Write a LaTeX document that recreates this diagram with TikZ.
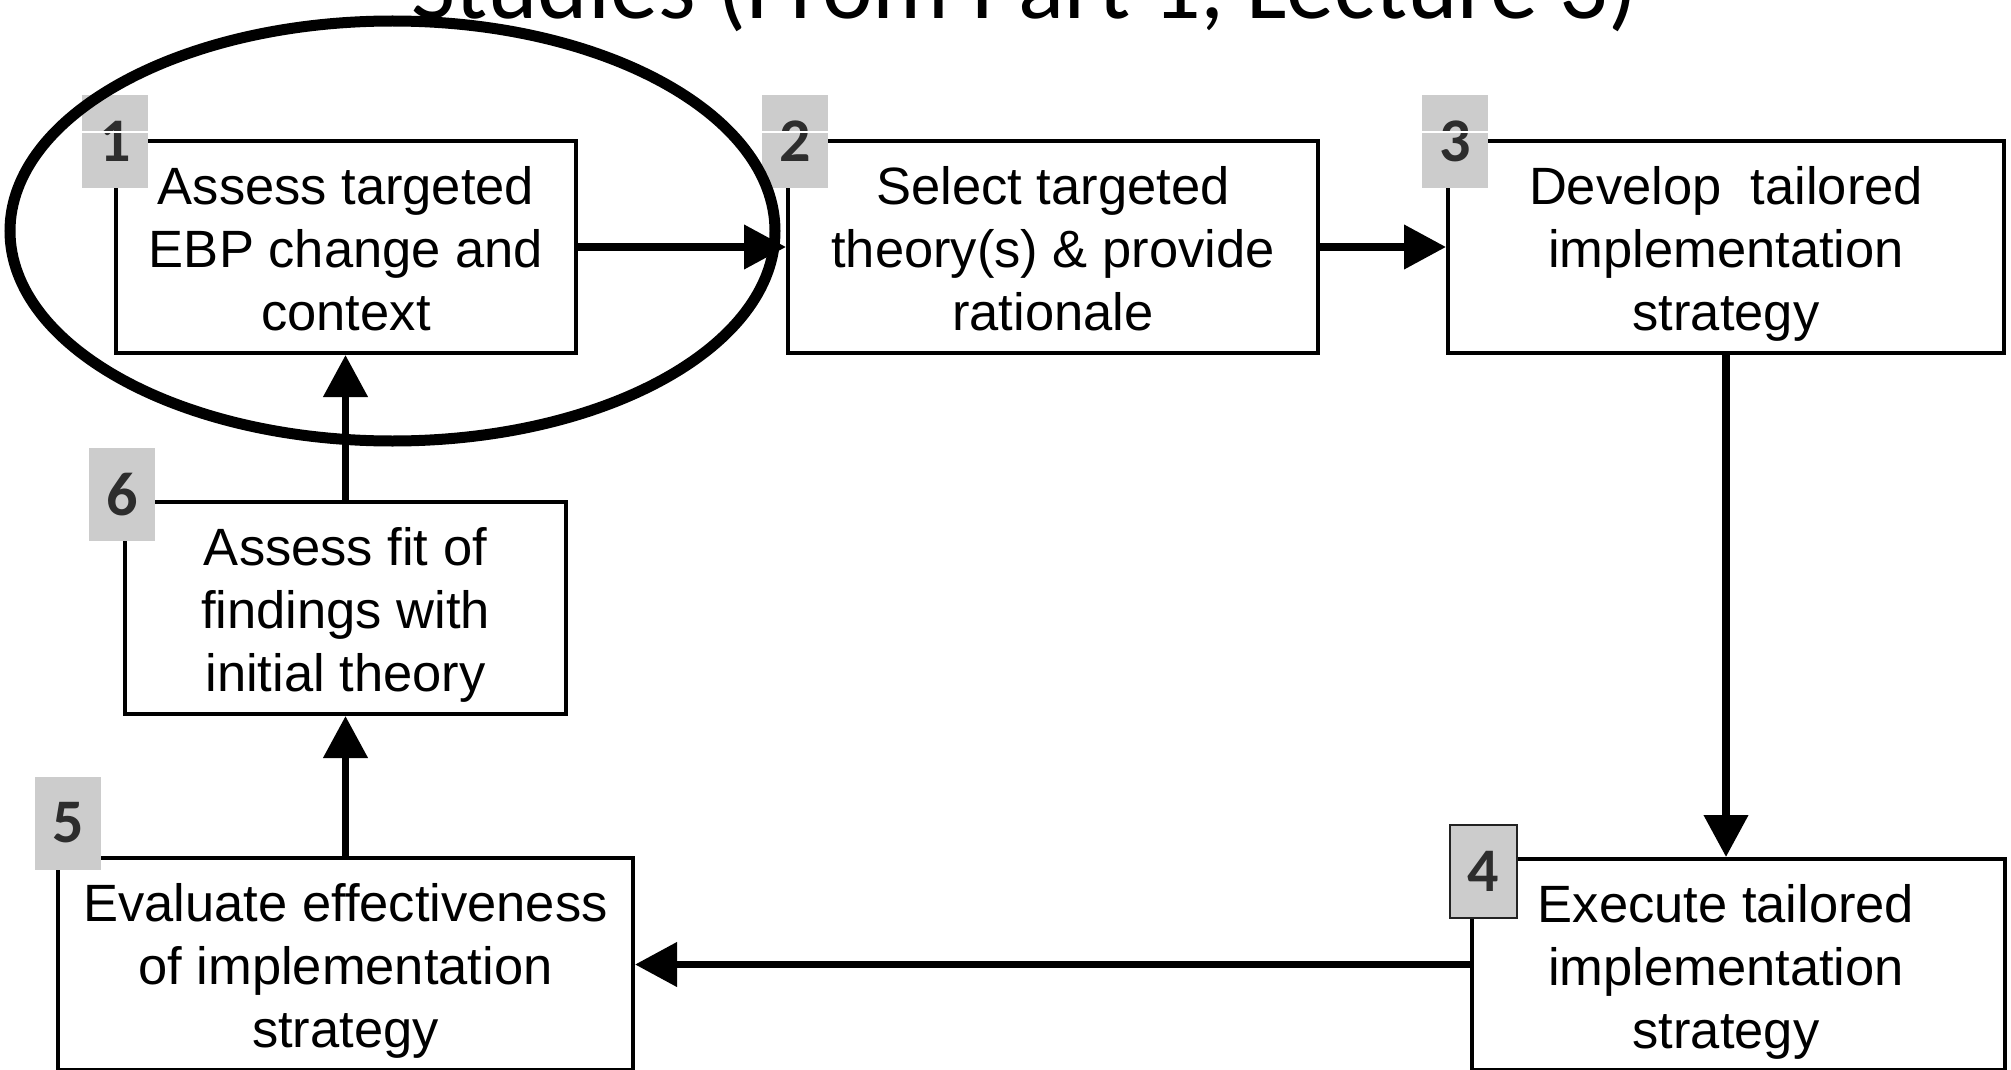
\documentclass[tikz,border=0pt]{standalone}
\usepackage{fontspec}
\setmainfont{Liberation Sans}
\newfontfamily\carlito{Carlito}
\usetikzlibrary{arrows.meta}
\definecolor{badgegray}{RGB}{204,204,204}
\definecolor{digitgray}{RGB}{45,45,45}
\definecolor{badgeedge}{RGB}{34,34,34}
\newcommand{\topstrut}{\rule{0pt}{53pt}}
\newcommand{\botstrut}{\rule[-12pt]{0pt}{12pt}}
\begin{document}
\begin{tikzpicture}[x=1pt,y=-1pt,
  stepbox/.style={draw=black, line width=4pt, rectangle, inner sep=0pt, align=center,
    minimum height=212pt, font=\fontsize{52.5}{63}\selectfont},
  steptext/.style={inner sep=0pt, align=center, font=\fontsize{52.5}{63}\selectfont},
  badge/.style={rectangle, fill=badgegray, minimum width=66pt, minimum height=93pt, inner sep=0pt,
    text=digitgray, font=\carlito\bfseries\fontsize{62}{62}\selectfont},
  arr/.style={line width=7.5pt, -{Triangle[length=42pt,width=43pt]}},
  seam/.style={white, line width=1.2pt}
]
\clip (0,0) rectangle (2011,1070);
\fill[white] (0,0) rectangle (2011,1070);

% title (bottom line of a slide title, cut off at the top)
\node[anchor=base west, inner sep=0pt, font=\carlito\fontsize{96}{100}\selectfont] (title) at (411,19) {Studies (From Part 1, Lecture 3)};

% boxes
\node[stepbox, minimum width=460pt] (b1) at (346,247) {\topstrut Assess targeted\\EBP change and\\context\botstrut};
\node[stepbox, minimum width=530pt] (b2) at (1053,247) {\topstrut Select targeted\\theory(s) \& provide\\rationale\botstrut};
\node[stepbox, minimum width=556pt] (b3) at (1726,247) {\topstrut Develop\ \ tailored\\implementation\\strategy\botstrut};
\node[stepbox, minimum width=533pt, minimum height=211pt] (b4) at (1738.5,964.5) {};
\node[steptext] (t4) at (1726,964.5) {\topstrut Execute tailored\\implementation\\strategy\botstrut};
\node[stepbox, minimum width=575pt] (b5) at (345.5,964) {\topstrut Evaluate effectiveness\\of implementation\\strategy\botstrut};
\node[stepbox, minimum width=441pt] (b6) at (345.5,608) {\topstrut Assess fit of\\findings with\\initial theory\botstrut};

% connectors
\draw[arr] (b1.east) -- (b2.west);
\draw[arr] (b2.east) -- (b3.west);
\draw[arr] (b3.south) -- (b3.south |- b4.north);
\draw[arr] (b4.west) -- (b4.west -| b5.east);
\draw[arr] (b5.north) -- (b6.south);
\draw[arr] (b6.north) -- (b6.north |- b1.south);

% number badges
\node[badge] (n1) at (115,141.5) {1};
\node[badge] (n2) at (795,141.5) {2};
\node[badge] (n3) at (1455,141.5) {3};
\node[badge, draw=badgeedge, line width=2pt, minimum width=67pt] (n4) at (1483.5,871.5) {4};
\node[badge] (n5) at (68,823) {5};
\node[badge] (n6) at (122,494.5) {6};
\draw[seam] ([yshift=9.5pt]n1.west) -- ([yshift=9.5pt]n1.east);
\draw[seam] ([yshift=9.5pt]n2.west) -- ([yshift=9.5pt]n2.east);
\draw[seam] ([yshift=9.5pt]n3.west) -- ([yshift=9.5pt]n3.east);

% highlight ellipse round step 1
\draw[line width=11pt] (392.5,231) ellipse [x radius=382.5pt, y radius=210pt];
\end{tikzpicture}
\end{document}
